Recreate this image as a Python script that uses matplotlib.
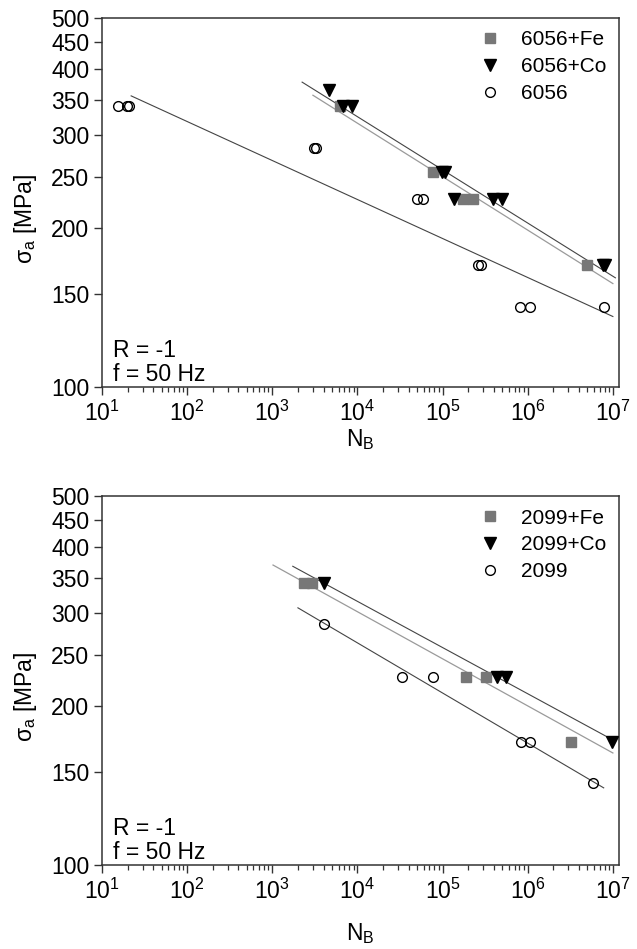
import matplotlib
matplotlib.use("Agg")
import matplotlib.pyplot as plt
from matplotlib.ticker import FixedLocator, FixedFormatter, LogLocator, NullFormatter

plt.rcParams['font.family'] = ['Liberation Sans', 'DejaVu Sans']
plt.rcParams['mathtext.fontset'] = 'custom'
plt.rcParams['mathtext.rm'] = 'Liberation Sans'
plt.rcParams['mathtext.it'] = 'Liberation Sans:italic'
plt.rcParams['mathtext.sf'] = 'Liberation Sans'

# ---------------- Top panel data (6056 alloys) ----------------
top_labels = ['6056+Fe', '6056+Co', '6056']
fe6056_N = [6300, 7.8e4, 1.74e5, 2.3e5, 4.9e6]
fe6056_S = [340, 255, 227, 227, 170]
co6056_N = [4650, 6800, 8700, 9.9e4, 1.07e5, 1.37e5, 3.9e5, 5.0e5, 7.6e6, 8.1e6]
co6056_S = [365, 340, 340, 255, 255, 227, 227, 227, 170, 170]
al6056_N = [15.5, 19.5, 20.5, 3100, 3250, 5.0e4, 5.9e4, 2.6e5, 2.8e5, 8.1e5, 1.05e6, 7.9e6]
al6056_S = [340, 340, 340, 284, 284, 227, 227, 170, 170, 142, 142, 142]
# fitted lines (end points)
fit_fe6056_N = [3000, 1.0e7]
fit_fe6056_S = [357, 157]
fit_co6056_N = [2240, 1.07e7]
fit_co6056_S = [378, 161]
fit_al6056_N = [22, 1.0e7]
fit_al6056_S = [356, 136]

# ---------------- Bottom panel data (2099 alloys) ----------------
bot_labels = ['2099+Fe', '2099+Co', '2099']
fe2099_N = [2350, 2950, 1.9e5, 3.2e5, 3.2e6]
fe2099_S = [342, 342, 227, 227, 171]
co2099_N = [4000, 4.4e5, 5.6e5, 9.8e6]
co2099_S = [342, 227, 227, 171]
al2099_N = [4000, 3.35e4, 7.8e4, 8.3e5, 1.05e6, 5.9e6]
al2099_S = [286, 227, 227, 171, 171, 143]
fit_fe2099_N = [1020, 1.0e7]
fit_fe2099_S = [370, 163]
fit_co2099_N = [1740, 8.5e6]
fit_co2099_S = [368, 175]
fit_al2099_N = [2000, 7.8e6]
fit_al2099_S = [307, 140]

y_ticks = [100, 150, 200, 250, 300, 350, 400, 450, 500]
y_tick_labels = ['100', '150', '200', '250', '300', '350', '400', '450', '500']
annot_lines = ['R = -1', 'f = 50 Hz']

W, H = 637, 949
fig = plt.figure(figsize=(W / 100, H / 100), dpi=100)
left = 102 / W
width = (619 - 102) / W
ax_top = fig.add_axes([left, 1 - 387 / H, width, (387 - 18) / H])
ax_bot = fig.add_axes([left, 1 - 865 / H, width, (865 - 496) / H])

spine_col = '#333333'
sq_col = '#777777'
dark_line = '#444444'
light_line = '#9a9a9a'
FS = 16.5


def draw(ax, fe, co, al, fits, labels, xlabelpad):
    (feN, feS), (coN, coS), (alN, alS) = fe, co, al
    (ffN, ffS), (fcN, fcS), (faN, faS) = fits
    ax.plot(faN, faS, color=dark_line, lw=0.8, zorder=1)
    ax.plot(ffN, ffS, color=light_line, lw=0.9, zorder=1)
    ax.plot(fcN, fcS, color=dark_line, lw=0.8, zorder=1)
    ax.plot(feN, feS, ls='none', marker='s', ms=6.5, mfc=sq_col, mec=sq_col,
            label=labels[0], zorder=3)
    ax.plot(coN, coS, ls='none', marker='v', ms=8, mfc='black', mec='black',
            label=labels[1], zorder=3)
    ax.plot(alN, alS, ls='none', marker='o', ms=7, mfc='none', mec='black',
            mew=1.0, label=labels[2], zorder=3)
    ax.set_xscale('log')
    ax.set_yscale('log')
    ax.set_xlim(10, 1.18e7)
    ax.set_ylim(100, 500)
    ax.yaxis.set_major_locator(FixedLocator(y_ticks))
    ax.yaxis.set_major_formatter(FixedFormatter(y_tick_labels))
    ax.yaxis.set_minor_locator(FixedLocator([]))
    ax.yaxis.set_minor_formatter(NullFormatter())
    ax.xaxis.set_major_locator(LogLocator(base=10, numticks=10))
    ax.xaxis.set_minor_locator(LogLocator(base=10, subs=range(2, 10), numticks=20))
    ax.xaxis.set_minor_formatter(NullFormatter())
    ax.tick_params(axis='both', which='major', direction='out', length=6,
                   width=1.0, color=spine_col, labelsize=FS, pad=3)
    ax.tick_params(axis='x', which='minor', direction='out', length=3.5,
                   width=0.9, color=spine_col)
    ax.tick_params(axis='x', which='major', pad=4)
    for s in ax.spines.values():
        s.set_color(spine_col)
        s.set_linewidth(1.1)
    ax.set_xlabel(r'N$_\mathrm{B}$', fontsize=FS, labelpad=xlabelpad)
    ax.set_ylabel('σ$_\\mathrm{a}$ [MPa]', fontsize=FS)
    ax.yaxis.set_label_coords(-0.122, 0.455)
    ax.legend(loc='upper right', frameon=False, fontsize=15,
              handletextpad=0.9, labelspacing=0.38, borderaxespad=0.3,
              handlelength=1.2, borderpad=0.3)
    ax.text(0.022, 0.100, annot_lines[0], transform=ax.transAxes, fontsize=FS,
            ha='left', va='center')
    ax.text(0.022, 0.033, annot_lines[1], transform=ax.transAxes, fontsize=FS,
            ha='left', va='center')


draw(ax_top, (fe6056_N, fe6056_S), (co6056_N, co6056_S), (al6056_N, al6056_S),
     ((fit_fe6056_N, fit_fe6056_S), (fit_co6056_N, fit_co6056_S), (fit_al6056_N, fit_al6056_S)),
     top_labels, 1)
draw(ax_bot, (fe2099_N, fe2099_S), (co2099_N, co2099_S), (al2099_N, al2099_S),
     ((fit_fe2099_N, fit_fe2099_S), (fit_co2099_N, fit_co2099_S), (fit_al2099_N, fit_al2099_S)),
     bot_labels, 12)

fig.savefig('out.png', dpi=100)
